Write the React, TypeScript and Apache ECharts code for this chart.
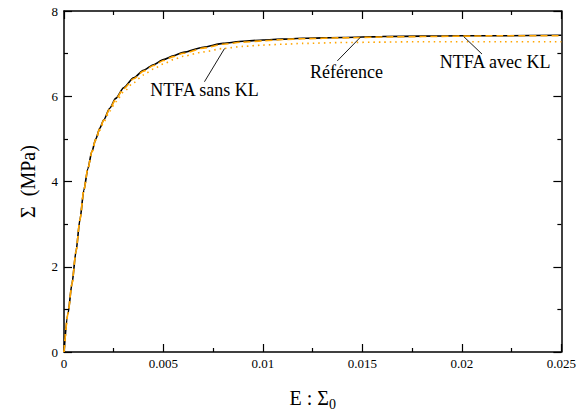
import React, { useEffect, useRef } from "react";
import * as echarts from "echarts";

const strain = [0, 0.0002, 0.0004, 0.0006, 0.0008, 0.001, 0.0012, 0.0014, 0.0016, 0.0018, 0.002, 0.0023, 0.0026, 0.003, 0.0035, 0.004, 0.0045, 0.005, 0.0055, 0.006, 0.007, 0.008, 0.009, 0.01, 0.011, 0.012, 0.014, 0.016, 0.018, 0.02, 0.022, 0.025];
const reference = [0, 0.9, 1.6, 2.35, 3.1, 3.8, 4.3, 4.7, 5.0, 5.25, 5.45, 5.72, 5.95, 6.2, 6.43, 6.61, 6.74, 6.86, 6.95, 7.03, 7.15, 7.24, 7.29, 7.32, 7.34, 7.36, 7.38, 7.4, 7.41, 7.42, 7.42, 7.43];
const avecKL = [0, 0.9, 1.6, 2.35, 3.1, 3.8, 4.3, 4.7, 5.0, 5.24, 5.44, 5.7, 5.93, 6.18, 6.41, 6.59, 6.72, 6.84, 6.93, 7.01, 7.13, 7.22, 7.27, 7.3, 7.33, 7.35, 7.37, 7.39, 7.4, 7.41, 7.42, 7.42];
const sansKL = [0, 0.9, 1.6, 2.35, 3.1, 3.8, 4.3, 4.68, 4.97, 5.2, 5.4, 5.65, 5.87, 6.1, 6.32, 6.5, 6.64, 6.76, 6.86, 6.94, 7.04, 7.12, 7.17, 7.2, 7.22, 7.24, 7.26, 7.27, 7.28, 7.28, 7.28, 7.28];

const annotationTexts = ["NTFA sans KL", "Référence", "NTFA avec KL"];
const annotationFrom = [[0.00807, 7.12], [0.01491, 7.39], [0.02009, 7.4]];
const annotationTo = [[0.00706, 6.34], [0.01374, 6.83], [0.02101, 6.99]];
const annotationAt = [[0.00706, 6.14], [0.0142, 6.58], [0.02167, 6.8]];

const xTicks = { min: 0, max: 0.025, interval: 0.005 };
const yTicks = { min: 0, max: 8, interval: 2 };

const FONT = "Liberation Serif";
const ORANGE = "#FFA500";

export default function App() {
  const ref = useRef<HTMLDivElement>(null);
  useEffect(() => {
    const chart = echarts.init(ref.current!, null, { renderer: "svg" });
    const pts = (ys: number[]) => strain.map((x, i) => [x, ys[i]]);
    const axisCommon = {
      axisLine: { show: true, onZero: false, lineStyle: { color: "#000", width: 1.5 } },
      axisTick: { show: true, inside: true, length: 8, lineStyle: { color: "#000", width: 1.2 } },
      minorTick: { show: true, splitNumber: 2, length: 4, lineStyle: { color: "#000", width: 1.2 } },
      splitLine: { show: false },
    };
    const xLabelFmt = (v: number) => (v === 0 ? "0" : String(+v.toFixed(4)));
    chart.setOption({
      animation: false,
      backgroundColor: "#fff",
      textStyle: { fontFamily: FONT },
      grid: { left: 64, right: 16, top: 11, bottom: 57, containLabel: false },
      xAxis: [
        {
          type: "value",
          ...xTicks,
          ...axisCommon,
          position: "bottom",
          axisLabel: { color: "#000", fontFamily: FONT, fontSize: 13, margin: 5, formatter: xLabelFmt },
          name: "{n|E : Σ}{s|0}",
          nameLocation: "middle",
          nameGap: 33,
          nameTextStyle: {
            fontFamily: FONT,
            rich: {
              n: { fontFamily: FONT, fontSize: 20, color: "#000" },
              s: { fontFamily: FONT, fontSize: 14, color: "#000", padding: [12, 0, 0, 0] },
            },
          },
        },
        {
          type: "value",
          ...xTicks,
          ...axisCommon,
          position: "top",
          axisLabel: { show: false },
        },
      ],
      yAxis: [
        {
          type: "value",
          ...yTicks,
          ...axisCommon,
          position: "left",
          axisLabel: { color: "#000", fontFamily: FONT, fontSize: 13, margin: 6 },
          name: "Σ  (MPa)",
          nameLocation: "middle",
          nameGap: 26,
          nameTextStyle: { fontFamily: FONT, fontSize: 20, color: "#000" },
        },
        {
          type: "value",
          ...yTicks,
          ...axisCommon,
          position: "right",
          axisLabel: { show: false },
        },
      ],
      series: [
        {
          name: "Référence",
          type: "line",
          data: pts(reference),
          symbol: "none",
          smooth: 0.25,
          smoothMonotone: "x",
          lineStyle: { color: "#000", width: 1.6 },
          z: 2,
          markLine: {
            silent: true,
            symbol: "none",
            lineStyle: { color: "#000", width: 0.9, type: "solid" },
            label: { show: false },
            data: annotationFrom.map((f, i) => [
              { coord: f },
              { coord: annotationTo[i] },
            ]),
          },
          markPoint: {
            silent: true,
            symbol: "circle",
            symbolSize: 0,
            label: {
              show: true,
              position: "inside",
              color: "#000",
              fontFamily: FONT,
              fontSize: 18,
              formatter: (p: any) => p.name,
            },
            data: annotationAt.map((c, i) => ({ name: annotationTexts[i], coord: c })),
          },
        },
        {
          name: "NTFA avec KL",
          type: "line",
          data: pts(avecKL),
          symbol: "none",
          smooth: 0.25,
          smoothMonotone: "x",
          lineStyle: { color: ORANGE, width: 1.6, type: [7, 4] },
          z: 3,
        },
        {
          name: "NTFA sans KL",
          type: "line",
          data: pts(sansKL),
          symbol: "none",
          smooth: 0.25,
          smoothMonotone: "x",
          lineStyle: { color: ORANGE, width: 1.6, type: [1.5, 4] },
          z: 3,
        },
      ],
    });
    return () => chart.dispose();
  }, []);
  return <div ref={ref} style={{ position: "fixed", left: 0, top: 0, width: 579, height: 416 }} />;
}
